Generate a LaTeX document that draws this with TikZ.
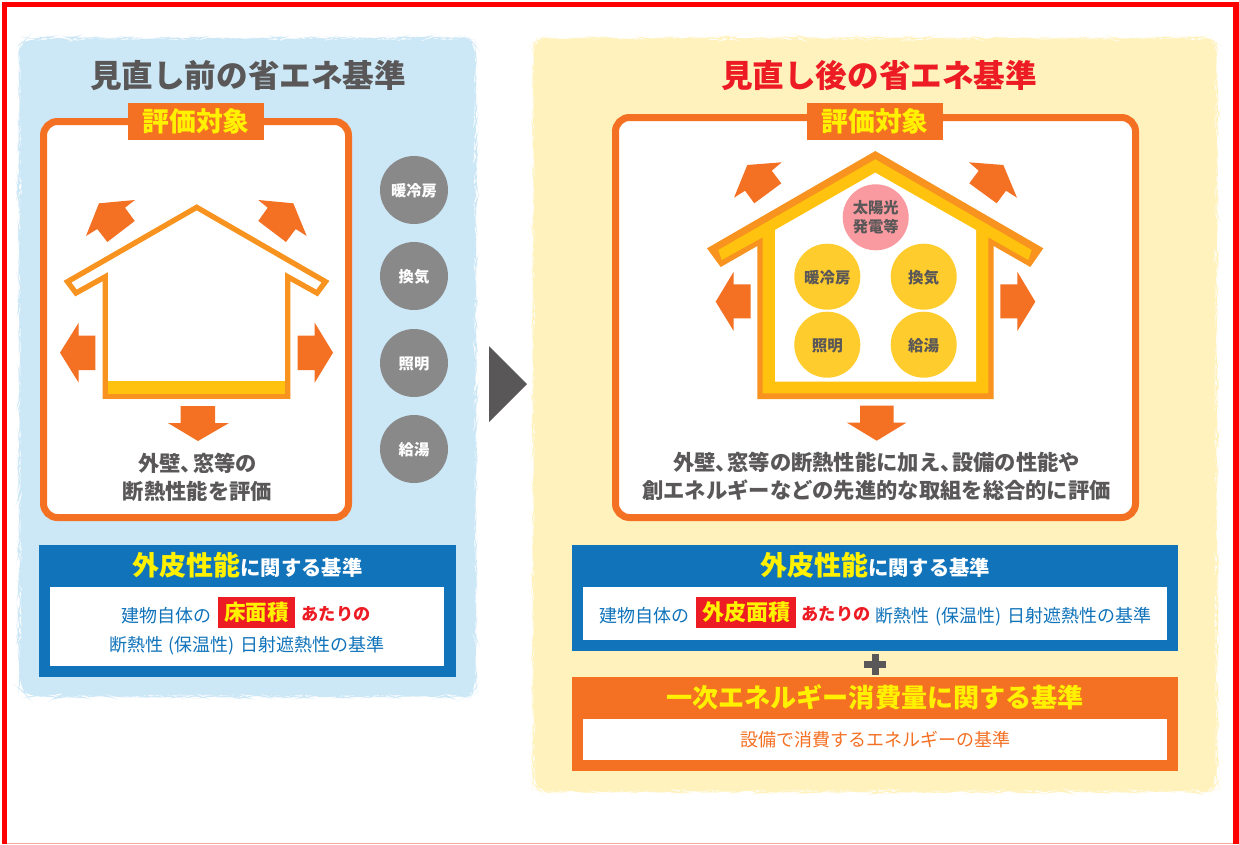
\documentclass[tikz,border=0pt]{standalone}
\usepackage{fontspec}
\usetikzlibrary{decorations.pathmorphing}
\newfontfamily\cjk{Noto Sans CJK JP}
\definecolor{framered}{HTML}{FF0000}
\definecolor{panelblue}{HTML}{CCE7F6}
\definecolor{panelcream}{HTML}{FFF2BC}
\definecolor{orangeA}{HTML}{F47023}
\definecolor{houseline}{HTML}{F7931E}
\definecolor{houseyellow}{HTML}{FFC20E}
\definecolor{boxblue}{HTML}{1174BB}
\definecolor{redbox}{HTML}{ED1C24}
\definecolor{graytext}{HTML}{595757}
\definecolor{graycirc}{HTML}{898989}
\definecolor{pinkcirc}{HTML}{F99AA0}
\definecolor{yelcirc}{HTML}{FFCC2E}
\definecolor{labelyel}{HTML}{FFF100}
\newcommand{\fsz}[1]{\fontsize{#1}{#1}\selectfont}
\tikzset{
  x=1pt,y=-1pt,
  panel/.style={decorate,decoration={random steps,segment length=4pt,amplitude=0.9pt}},
  txt/.style={inner sep=0pt,outer sep=0pt,align=center},
  bsize/.style={font=\cjk\bfseries\fsz{#1},text height=0.88*#1 pt,text depth=0.12*#1 pt},
  rsize/.style={font=\cjk\fsz{#1},text height=0.88*#1 pt,text depth=0.12*#1 pt},
  arrowshape/.style={fill=orangeA},
  evalbox/.style={draw=orangeA,line width=7pt,fill=white,rounded corners=14pt},
  sidecirc/.style={circle,fill=graycirc,minimum size=68pt,inner sep=0pt,text=white,bsize=15.3,text depth=0pt},
  incirc/.style={circle,fill=yelcirc,minimum size=66pt,inner sep=0pt,text=graytext,bsize=15.5,text depth=0pt},
}
\begin{document}
\begin{tikzpicture}
\useasboundingbox (0,0) rectangle (1239,844);
\fill[white] (0,0) rectangle (1239,844);
% outer frame
\fill[framered] (2,1.5) rectangle (1239,6.5);
\fill[framered] (2,1.5) rectangle (7,844);
\fill[framered] (1233,1.5) rectangle (1239,844);
\fill[red!35] (7,843) rectangle (1233,844);
% panels
\pgfmathsetseed{7}
\fill[panelblue,panel,rounded corners=12pt] (19.6,38.6) rectangle (475.4,696.4);
\fill[panelcream,panel,rounded corners=12pt] (533.6,38.6) rectangle (1216.4,791.4);
% titles
\node[txt,text=graytext,bsize=31.6] (titleL) at (248,75) {見直し前の省エネ基準};
\node[txt,text=redbox,bsize=31.6] (titleR) at (879,75) {見直し後の省エネ基準};
% evaluation frames
\draw[evalbox] (43.5,121.5) rectangle (348.5,517.5);
\draw[evalbox] (615.5,117.5) rectangle (1135.5,517.5);
\node[txt,fill=orangeA,minimum width=136pt,minimum height=37pt,text=labelyel,bsize=26.8] (labelL) at (196,121.5) {評価対象};
\node[txt,fill=orangeA,minimum width=136pt,minimum height=37pt,text=labelyel,bsize=26.8] (labelR) at (875,121.5) {評価対象};
% left house
\draw[houseline,line width=5.3pt,fill=white,miter limit=10,line join=miter]
  (196.7,207.3) -- (325.5,281.7) -- (317,293) -- (287.7,276.7) -- (287.7,396.3) -- (105.3,396.3) -- (105.3,276.7) -- (76,293) -- (67.5,281.7) -- cycle;
\fill[houseyellow] (108,381) rectangle (285,393.7);
% left arrows
\fill[arrowshape] (135,200) -- (99,203.3) -- (86,236) -- (97.3,229) -- (107.3,242) -- (134.7,221) -- (125,207.7) -- cycle;
\fill[arrowshape] (258.3,200) -- (293.3,203.3) -- (306.7,236) -- (295.7,229) -- (286,242) -- (258.3,221) -- (267.7,207.7) -- cycle;
\fill[arrowshape] (60,352.7) -- (78.7,322.7) -- (78.7,335.7) -- (95.3,335.7) -- (95.3,370) -- (78.7,370) -- (78.7,382.7) -- cycle;
\fill[arrowshape] (333,352.7) -- (314.7,322.7) -- (314.7,335.7) -- (297.7,335.7) -- (297.7,370) -- (314.7,370) -- (314.7,382.7) -- cycle;
\fill[arrowshape] (180.7,406) -- (215,406) -- (215,423) -- (229,423) -- (198,441) -- (168,423) -- (180.7,423) -- cycle;
\node[txt,text=graytext,bsize=21.3] (descL1) at (197.5,463) {外壁、\kern-9pt 窓等の};
\node[txt,text=graytext,bsize=21.3] (descL2) at (197.5,491) {断熱性能を評価};
% side circles
\node[sidecirc] (sideA) at (414,190) {暖冷房};
\node[sidecirc] (sideB) at (414,276) {換気};
\node[sidecirc] (sideC) at (414,363) {照明};
\node[sidecirc] (sideD) at (414,449) {給湯};
% big arrow
\fill[graytext] (489,346) -- (527,384) -- (489,422) -- cycle;
% right house
\fill[houseline] (875.3,151) -- (1043.3,248.3) -- (1030.3,267) -- (993.7,246) -- (993.7,399) -- (757.3,399) -- (757.3,246) -- (720.7,267) -- (707,248.3) -- cycle;
\fill[houseyellow] (875.3,159.3) -- (1031.7,250) -- (1028.3,260) -- (988.3,237.3) -- (988.3,393.3) -- (762.7,393.3) -- (762.7,237.3) -- (721.7,260) -- (718.3,250) -- cycle;
\fill[white] (875.3,172.7) -- (976,230) -- (976,381.7) -- (775,381.7) -- (775,230) -- cycle;
% right arrows
\fill[arrowshape] (781.7,162.3) -- (747.3,165) -- (734,197.7) -- (745,190.7) -- (754.3,203.3) -- (781.3,183.3) -- (771.7,170.7) -- cycle;
\fill[arrowshape] (969,162.3) -- (1003.3,165) -- (1017,197.7) -- (1006,190.7) -- (996.7,203.3) -- (969.3,183.3) -- (978.7,170.7) -- cycle;
\fill[arrowshape] (715.7,301.7) -- (733.7,271.7) -- (733.7,284.3) -- (750.7,284.3) -- (750.7,318.3) -- (733.7,318.3) -- (733.7,331) -- cycle;
\fill[arrowshape] (1035.3,301.7) -- (1017.3,271.7) -- (1017.3,284.3) -- (1000.3,284.3) -- (1000.3,318.3) -- (1017.3,318.3) -- (1017.3,331) -- cycle;
\fill[arrowshape] (860,405.7) -- (893.7,405.7) -- (893.7,422.7) -- (906.3,422.7) -- (876.7,440.7) -- (847,422.7) -- (860,422.7) -- cycle;
% inner circles
\node[circle,fill=pinkcirc,minimum size=66pt,inner sep=0pt,text=graytext,align=center,font=\cjk\bfseries\fontsize{15.3}{19}\selectfont] (solar) at (875.7,217.3) {太陽光\\発電等};
\node[incirc] (inA) at (827.3,276.7) {暖冷房};
\node[incirc] (inB) at (923.7,276.7) {換気};
\node[incirc] (inC) at (827.3,344.7) {照明};
\node[incirc] (inD) at (923.7,344.7) {給湯};
\node[txt,text=graytext,bsize=21.3] (descR1) at (876.5,462) {外壁、\kern-9.5pt 窓等の断熱性能に加え、\kern-9.5pt 設備の性能や};
\node[txt,text=graytext,bsize=21.3] (descR2) at (876.5,490) {創エネルギーなどの先進的な取組を総合的に評価};
% left standard box
\fill[boxblue] (39,545) rectangle (456,677);
\fill[white] (50,587) rectangle (444,666);
\node[txt,text=white,bsize=20.3] (stdL) at (247.5,567.5) {{\color{labelyel}\fsz{27}外皮性能}に関する基準};
\node[txt,text=boxblue,rsize=18] (l1a) at (166,615.5) {建物自体の};
\node[txt,fill=redbox,minimum width=77pt,minimum height=31pt,text=labelyel,bsize=21.5] (l1b) at (256.5,612.5) {床面積};
\node[txt,text=redbox,bsize=17.2] (l1c) at (336,614) {あたりの};
\node[txt,text=boxblue,rsize=18] (l2) at (247,645) {断熱性\kern5.5pt(保温性)\kern5.5pt日射遮熱性の基準};
% right standard box
\fill[boxblue] (572,545) rectangle (1178,651);
\fill[white] (583,587) rectangle (1167,640);
\node[txt,text=white,bsize=20.3] (stdR) at (875,567.5) {{\color{labelyel}\fsz{27}外皮性能}に関する基準};
\node[txt,text=boxblue,rsize=18] (r1a) at (644,615.5) {建物自体の};
\node[txt,fill=redbox,minimum width=100pt,minimum height=31pt,text=labelyel,bsize=22] (r1b) at (746,612.5) {外皮面積};
\node[txt,text=redbox,bsize=17.2] (r1c) at (836,614) {あたりの};
\node[txt,text=boxblue,rsize=18] (r1d) at (1013.5,615.5) {断熱性\kern5.5pt(保温性)\kern5.5pt日射遮熱性の基準};
% plus
\fill[graytext] (871.5,654) rectangle (878.5,675);
\fill[graytext] (864,661) rectangle (885.5,668);
% energy box
\fill[orangeA] (572,677) rectangle (1178,771);
\fill[white] (583,719) rectangle (1167,760);
\node[txt,text=labelyel,bsize=26.1] (enT) at (875,698) {一次エネルギー消費量に関する基準};
\node[txt,text=orangeA,rsize=18] (enS) at (875.5,739.5) {設備で消費するエネルギーの基準};
\end{tikzpicture}
\end{document}
